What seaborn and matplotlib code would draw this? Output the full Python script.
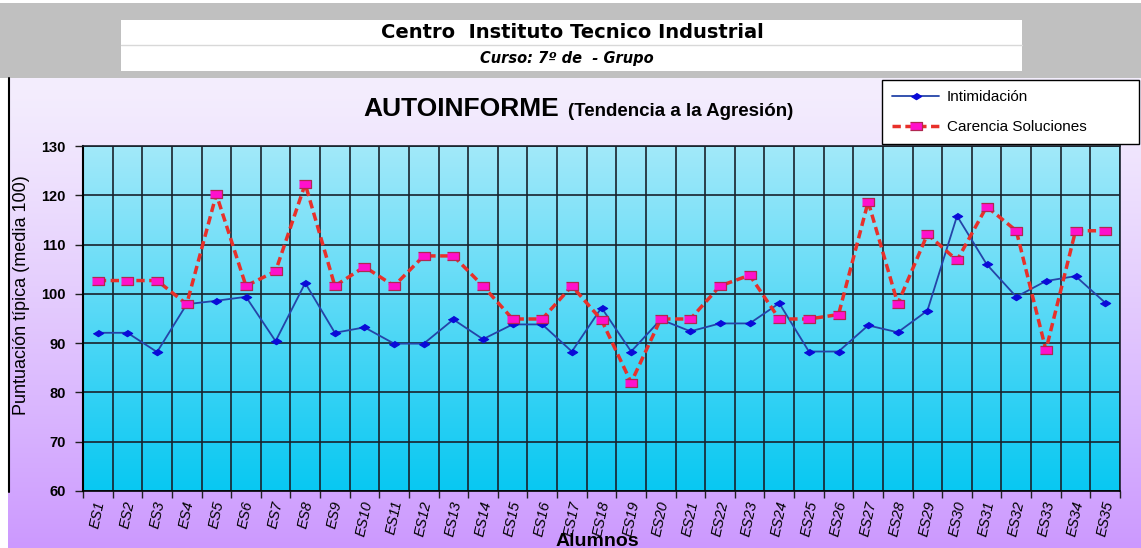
import numpy as np
import pandas as pd
import matplotlib
matplotlib.use("Agg")
import matplotlib.pyplot as plt
import seaborn as sns
from matplotlib.patches import Rectangle
from matplotlib.colors import to_rgb

# ---------------- data ----------------
alumnos = ["ES1", "ES2", "ES3", "ES4", "ES5", "ES6", "ES7", "ES8", "ES9", "ES10",
           "ES11", "ES12", "ES13", "ES14", "ES15", "ES16", "ES17", "ES18", "ES19", "ES20",
           "ES21", "ES22", "ES23", "ES24", "ES25", "ES26", "ES27", "ES28", "ES29", "ES30",
           "ES31", "ES32", "ES33", "ES34", "ES35"]
intimidacion = [92.1, 92.1, 88.2, 97.9, 98.6, 99.4, 90.4, 102.2, 92.1, 93.2,
                89.9, 89.9, 94.8, 90.8, 93.8, 93.8, 88.3, 97.2, 88.3, 94.8,
                92.4, 94.0, 94.0, 98.1, 88.3, 88.3, 93.6, 92.2, 96.6, 115.8,
                106.0, 99.4, 102.6, 103.6, 98.2]
carencia = [102.7, 102.7, 102.7, 97.9, 120.2, 101.6, 104.6, 122.3, 101.6, 105.5,
            101.6, 107.7, 107.7, 101.6, 94.9, 94.9, 101.6, 94.7, 82.0, 94.9,
            94.9, 101.6, 103.8, 94.9, 94.9, 95.8, 118.7, 98.0, 112.1, 106.8,
            117.7, 112.8, 88.6, 112.8, 112.8]
yticks = [60, 70, 80, 90, 100, 110, 120, 130]

df = pd.DataFrame({"Alumno": alumnos,
                   "Intimidación": intimidacion,
                   "Carencia Soluciones": carencia})

sns.set_style("ticks")
plt.rcParams["font.family"] = ["Liberation Sans", "DejaVu Sans"]
plt.rcParams["text.color"] = "black"
plt.rcParams["axes.labelcolor"] = "black"
plt.rcParams["xtick.color"] = "black"
plt.rcParams["ytick.color"] = "black"

W, H = 1141, 548
fig = plt.figure(figsize=(W / 100, H / 100), dpi=100)

# ---------------- background (figure-level) ----------------
bg = fig.add_axes([0, 0, 1, 1], zorder=-10)
bg.set_xlim(0, W)
bg.set_ylim(H, 0)
bg.axis("off")


def vgrad(top, bottom, n=256, power=1.0):
    t = np.linspace(0, 1, n) ** power
    c0, c1 = np.array(to_rgb(top)), np.array(to_rgb(bottom))
    col = c0[None, :] * (1 - t[:, None]) + c1[None, :] * t[:, None]
    return col[:, None, :]


# lilac chart area
bg.imshow(vgrad("#f4eefd", "#cc99ff", power=1.2), extent=(8, W, H, 78),
          aspect="auto", interpolation="bilinear", zorder=0)
# header band
bg.add_patch(Rectangle((0, 3), W, 75, facecolor="#c0c0c0", edgecolor="none", zorder=1))
bg.add_patch(Rectangle((121, 20), 901, 51, facecolor="white", edgecolor="none", zorder=2))
bg.plot([121, 1022], [45, 45], color="#d8d8d8", lw=1, zorder=3)
bg.plot([9, 9], [78, 492], color="black", lw=1.5, zorder=3)
# plot-area gradient
bg.imshow(vgrad("#a2e9fa", "#08c8f2"), extent=(83, 1120, 491, 146),
          aspect="auto", interpolation="bilinear", zorder=4)

bg.text(572, 33, "Centro  Instituto Tecnico Industrial", ha="center", va="center",
        fontsize=14, fontweight="bold", family=["DejaVu Sans"], zorder=5)
bg.text(567, 58, "Curso: 7º de  - Grupo", ha="center", va="center",
        fontsize=10.5, fontweight="bold", fontstyle="italic", family=["DejaVu Sans"], zorder=5)
bg.text(363, 116, "AUTOINFORME", ha="left", va="baseline",
        fontsize=19, fontweight="bold", zorder=5)
bg.text(568, 116, "(Tendencia a la Agresión)", ha="left", va="baseline",
        fontsize=13.5, fontweight="bold", zorder=5)

# ---------------- main plot ----------------
ax = fig.add_axes([83 / W, 57 / H, 1037 / W, 345 / H])
ax.set_facecolor("none")

diamond = [(0, 0.62), (1, 0), (0, -0.62), (-1, 0)]
rect = [(-1, -0.62), (1, -0.62), (1, 0.62), (-1, 0.62)]

sns.lineplot(data=df, x="Alumno", y="Intimidación", ax=ax, sort=False, errorbar=None,
             color="#2444a8", linewidth=1.3, marker=diamond, markersize=7.5,
             markerfacecolor="#0a0ad8", markeredgecolor="#0a0ad8", markeredgewidth=0.8,
             label="Intimidación")
sns.lineplot(data=df, x="Alumno", y="Carencia Soluciones", ax=ax, sort=False, errorbar=None,
             color="#e8302a", linewidth=2.5, linestyle=(0, (2.4, 1.3)),
             marker=rect, markersize=8.5, markerfacecolor="#ff10cc",
             markeredgecolor="#b02850", markeredgewidth=0.9,
             label="Carencia Soluciones")

ax.set_xlim(-0.5, len(alumnos) - 0.5)
ax.set_ylim(60, 130)
ax.set_yticks(yticks)
ax.set_yticklabels([str(v) for v in yticks], fontsize=10.5, fontweight="bold")
ax.set_xticks(range(len(alumnos)))
ax.set_xticklabels(alumnos, rotation=78, fontstyle="italic", fontsize=10.5)
ax.set_xticks(np.arange(-0.5, len(alumnos), 1), minor=True)
ax.tick_params(axis="x", which="major", length=0, pad=6, labelcolor="black")
ax.tick_params(axis="x", which="minor", length=5, width=1, color="#202020", direction="out")
ax.tick_params(axis="y", which="major", length=6, width=1, color="#202020", pad=6.5,
               labelcolor="black")

ax.grid(False)
ax.grid(True, which="minor", axis="x", color="#18222c", lw=1.2)
ax.grid(True, which="major", axis="y", color="#18222c", lw=1.2)
for s in ax.spines.values():
    s.set_color("#18222c")
    s.set_linewidth(1.2)
ax.spines["left"].set_color("black")
ax.spines["left"].set_linewidth(1.5)
ax.spines["bottom"].set_color("black")

ax.set_xlabel("Alumnos", fontsize=14, fontweight="bold", color="black")
ax.xaxis.set_label_coords((597 - 83) / 1037, (491 - 533) / 345)
ax.set_ylabel("Puntuación típica (media 100)", fontsize=13, color="black")
ax.yaxis.set_label_coords((30 - 83) / 1037, (491 - 295) / 345)

handles, labels = ax.get_legend_handles_labels()
if ax.get_legend() is not None:
    ax.get_legend().remove()
leg = fig.legend(handles, labels, loc="upper left",
                 bbox_to_anchor=(882 / W, 1 - 80 / H, (1139 - 882) / W, 0),
                 mode="expand", fontsize=11, frameon=True, fancybox=False,
                 framealpha=1, edgecolor="black", handlelength=3.1,
                 handletextpad=0.5, borderpad=0.65, labelspacing=1.05,
                 borderaxespad=0, labelcolor="black")
leg.get_frame().set_linewidth(1.0)
leg.set_zorder(20)

fig.savefig("out.png", dpi=100)
